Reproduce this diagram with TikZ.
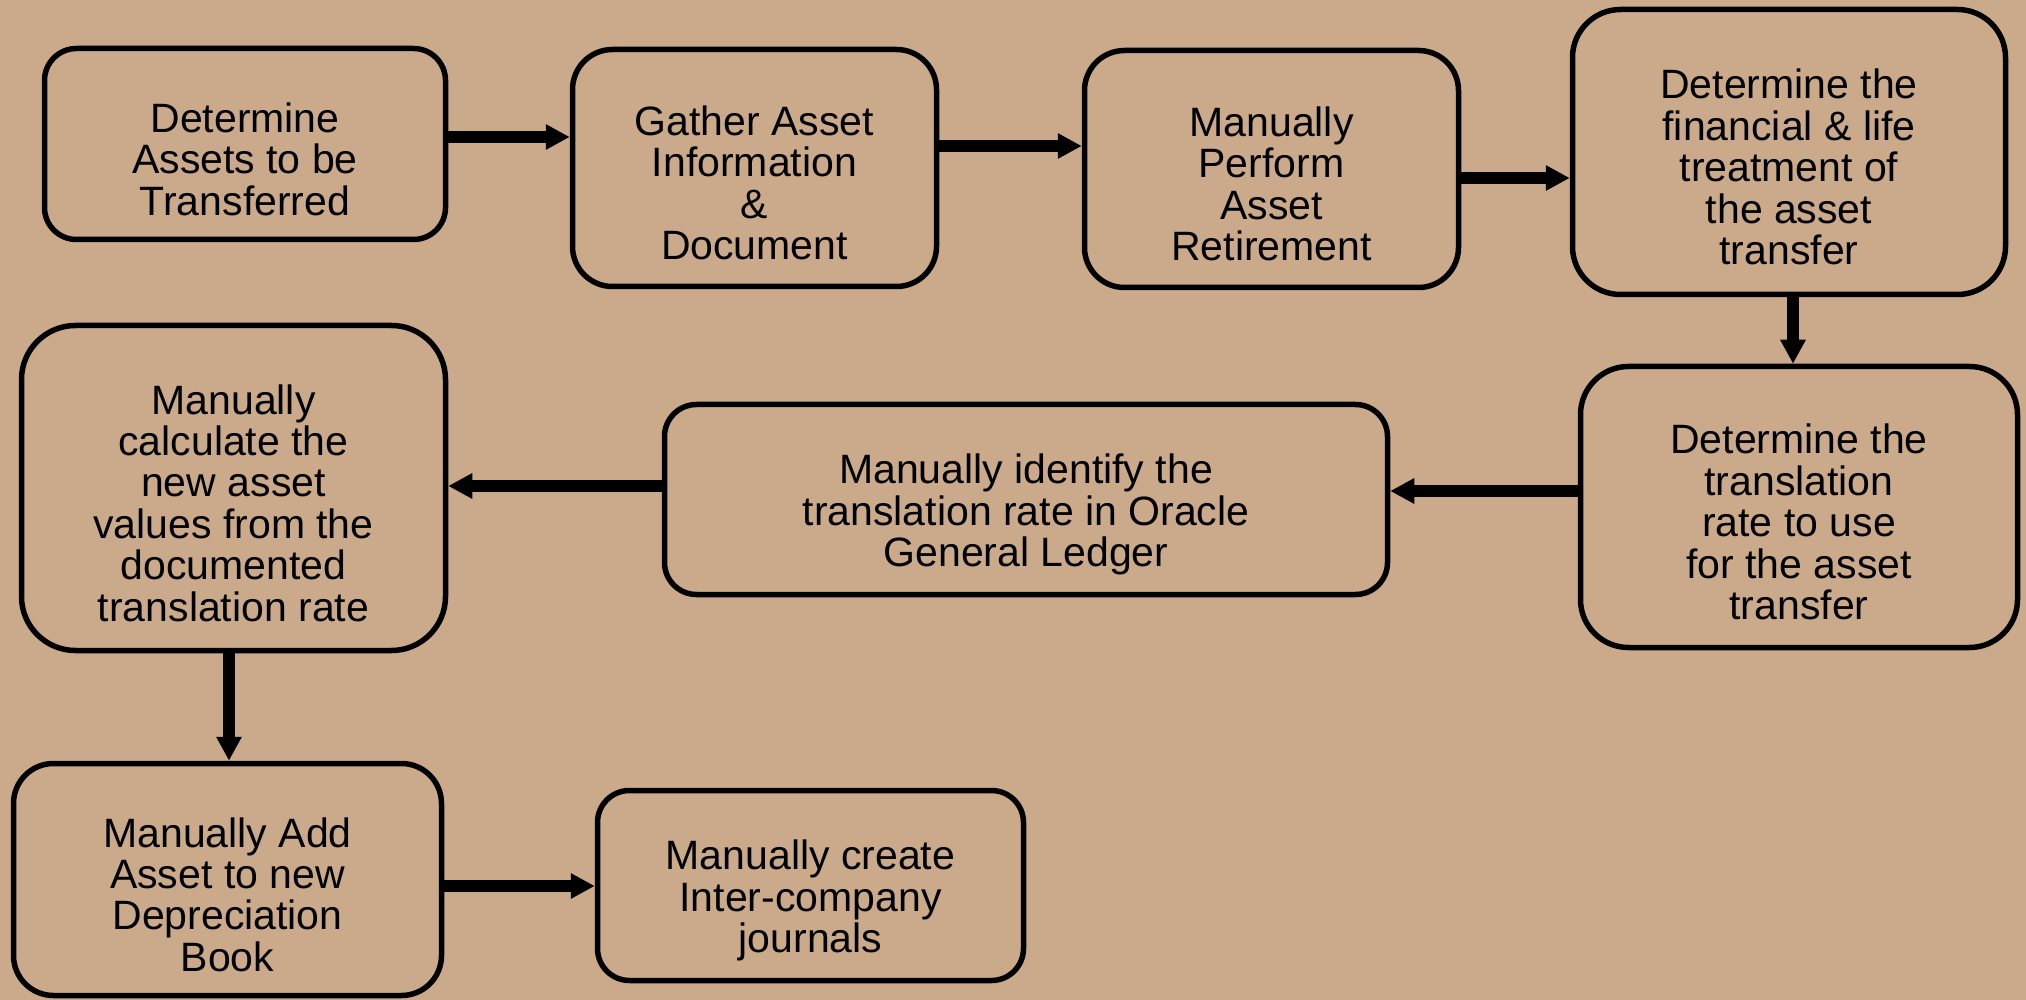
\documentclass[tikz,border=0pt]{standalone}
\usepackage{fontspec}
\setmainfont{Liberation Sans}
\usetikzlibrary{arrows.meta}
\definecolor{bg}{RGB}{203,170,140}
\begin{document}
\begin{tikzpicture}[x=0.5pt,y=-0.5pt,
  box/.style={draw=black, line width=2.75pt, fill=bg, inner sep=0pt},
  txt/.style={align=center, font=\fontsize{20.5}{20.7}\selectfont, inner sep=0pt, yshift=-7.5pt},
  arr/.style={line width=5.75pt, -{Triangle[length=12pt,width=12pt]}}]
\fill[bg] (0,0) rectangle (2026,1000);
\useasboundingbox (0,0) rectangle (2026,1000);

\node[box, minimum width=200.5pt, minimum height=95.5pt, rounded corners=16pt] (b1) at (245,144) {};
\node[box, minimum width=182pt, minimum height=118.5pt, rounded corners=20pt] (b2) at (754.5,168) {};
\node[box, minimum width=187pt, minimum height=118.5pt, rounded corners=20pt] (b3) at (1271.5,169) {};
\node[box, minimum width=216.5pt, minimum height=142.5pt, rounded corners=24pt] (b4) at (1789,152) {};
\node[box, minimum width=218.5pt, minimum height=140.5pt, rounded corners=24pt] (b5) at (1799,507) {};
\node[box, minimum width=361.5pt, minimum height=95pt, rounded corners=16pt] (b6) at (1026,499.5) {};
\node[box, minimum width=212pt, minimum height=162.5pt, rounded corners=27pt] (b7) at (233.5,488) {};
\node[box, minimum width=214pt, minimum height=116pt, rounded corners=20pt] (b8) at (227.5,879.5) {};
\node[box, minimum width=213pt, minimum height=95pt, rounded corners=16pt] (b9) at (810.5,885.5) {};

\node[txt] (t1) at (b1) {Determine\\Assets to be\\Transferred};
\node[txt] (t2) at (b2) {Gather Asset\\Information\\\&\\Document};
\node[txt] (t3) at (b3) {Manually\\Perform\\Asset\\Retirement};
\node[txt] (t4) at (b4) {Determine the\\financial \& life\\treatment of\\the asset\\transfer};
\node[txt] (t5) at (b5) {Determine the\\translation\\rate to use\\for the asset\\transfer};
\node[txt] (t6) at (b6) {Manually identify the\\translation rate in Oracle\\General Ledger};
\node[txt] (t7) at (b7) {Manually\\calculate the\\new asset\\values from the\\documented\\translation rate};
\node[txt] (t8) at (b8) {Manually Add\\Asset to new\\Depreciation\\Book};
\node[txt] (t9) at (b9) {Manually create\\Inter-company\\journals};

\draw[arr] (b1.east |- 0,137) -- (b2.west |- 0,137);
\draw[arr] (b2.east |- 0,146) -- (b3.west |- 0,146);
\draw[arr] (b3.east |- 0,178) -- (b4.west |- 0,178);
\draw[arr] (b4.south -| 1793,0) -- (b5.north -| 1793,0);
\draw[arr] (b5.west |- 0,491) -- (b6.east |- 0,491);
\draw[arr] (b6.west |- 0,486) -- (b7.east |- 0,486);
\draw[arr] (b7.south -| 229,0) -- (b8.north -| 229,0);
\draw[arr] (b8.east |- 0,886) -- (b9.west |- 0,886);
\end{tikzpicture}
\end{document}
